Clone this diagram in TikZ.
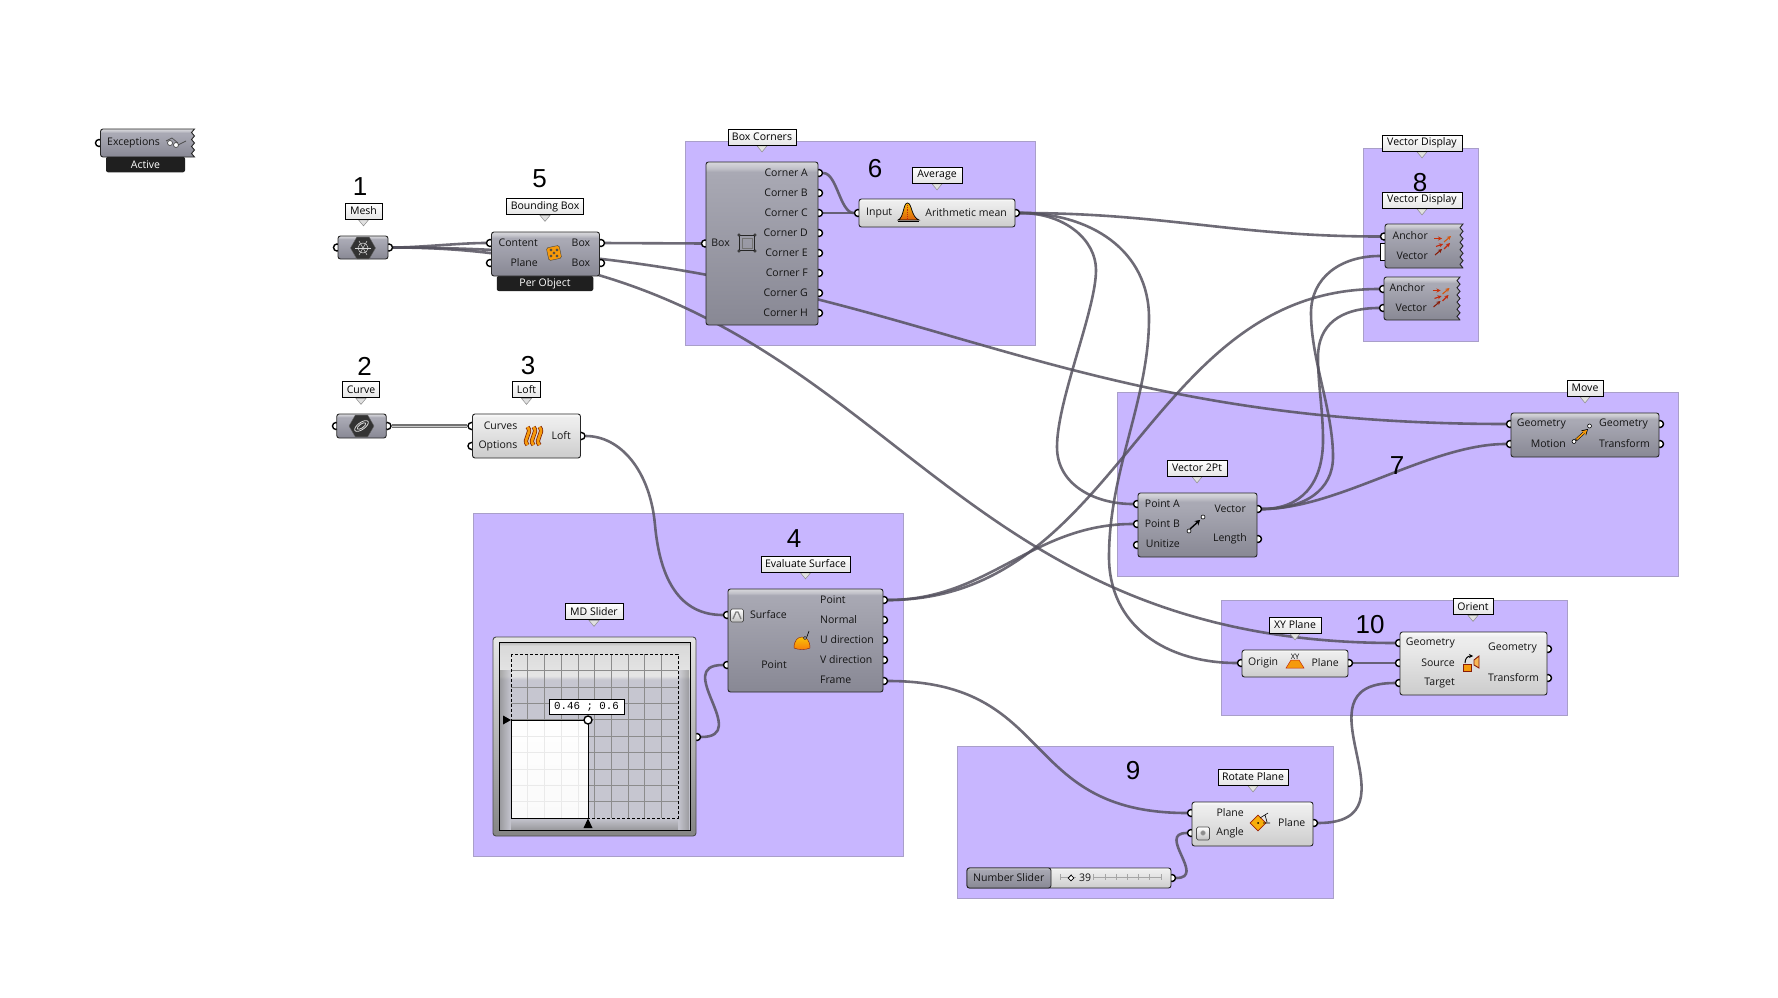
\documentclass[tikz,border=0pt]{standalone}
\usepackage{fontspec}
\setmainfont{Open Sans}
\newfontfamily\numfont{Liberation Sans}
\newfontfamily\valfont{Liberation Mono}
\usepackage{xcolor}
\definecolor{GrpPurple}{HTML}{C8B6FF}
\definecolor{GrpEdge}{HTML}{A99FC9}
\definecolor{WireGray}{HTML}{55525F}
\definecolor{IconOrange}{HTML}{F59A0C}
\definecolor{IconRed}{HTML}{C2280C}
\definecolor{DarkTop}{HTML}{A9A9B4}
\definecolor{DarkBot}{HTML}{888894}
\definecolor{DarkBand}{HTML}{D8D8DC}
\definecolor{FaceGray}{HTML}{C6C6D0}
\usepackage{tikz}
\usetikzlibrary{calc, positioning, arrows.meta, shapes.geometric}
\pgfdeclarelayer{grouplayer}
\pgfdeclarelayer{wirelayer}
\pgfdeclarelayer{portlayer}
\pgfsetlayers{grouplayer,wirelayer,portlayer,main}
\pgfdeclareverticalshading{darkgrad}{100bp}{color(0bp)=(DarkBot); color(25bp)=(DarkBot); color(65bp)=(DarkTop); color(68bp)=(DarkTop); color(72bp)=(DarkBand!70!DarkTop); color(75bp)=(DarkBand); color(100bp)=(DarkBand)}
\pgfdeclareverticalshading{talldarkgrad}{100bp}{color(0bp)=(DarkBot); color(25bp)=(DarkBot); color(72bp)=(DarkTop); color(73bp)=(DarkBand!50!DarkTop); color(75bp)=(DarkBand); color(100bp)=(DarkBand)}
\pgfdeclareverticalshading{lightgrad}{100bp}{color(0bp)=(black!20); color(25bp)=(black!20); color(64bp)=(black!8); color(71bp)=(black!7); color(75bp)=(black!1); color(100bp)=(black!1)}
\pgfdeclareverticalshading{facegrad}{100bp}{color(0bp)=(FaceGray); color(25bp)=(FaceGray); color(65bp)=(FaceGray); color(66bp)=(black!10); color(74bp)=(black!15); color(75bp)=(black!30); color(100bp)=(black!30)}
\newcommand{\jagbox}[5]{%
  \pgfmathsetmacro{\toothh}{(#4-#2)/#5/2}
  \path[jagged] (#1,#2+5) [rounded corners=2.5pt] -- (#1,#2) [sharp corners] -- (#3,#2)
    \foreach \tooth in {1,...,#5} { -- ++(-3,\toothh) -- ++(3,\toothh) }
    -- (#3,#4) [rounded corners=2.5pt] -- (#1,#4) -- cycle;}

\begin{document}
\begin{tikzpicture}[
        x=1pt, y=-1pt,
        font=\fontsize{10.5}{12}\selectfont,
        >=Stealth,
        % Styles
        wh/.style 2 args={minimum width=#1, minimum height=#2},
        groupbox/.style={rectangle, draw=GrpEdge, line width=1pt, fill=GrpPurple, inner sep=0pt},
        darkcomp/.style={rectangle, rounded corners=2.5pt, draw=black!85, line width=.9pt, shading=darkgrad, inner sep=0pt},
        tallcomp/.style={darkcomp, shading=talldarkgrad},
        lightcomp/.style={darkcomp, shading=lightgrad},
        jagged/.style={draw=black!85, line width=.9pt, shade, shading=darkgrad},
        strip/.style={rectangle, rounded corners=2pt, fill=black!88, inner sep=0pt, text=white},
        port/.style={circle, draw=black, line width=1.4pt, fill=white, minimum size=7pt, inner sep=0pt},
        wire/.style={draw=WireGray, line width=2.6pt, opacity=.85},
        curvewire/.style={draw=black!55, line width=1.4pt, double=white!80!black, double distance=1pt},
        tipbox/.style={rectangle, draw=black, line width=.8pt, top color=white, bottom color=black!10, minimum height=16pt, inner sep=0pt,
            append after command={\pgfextra{\path[draw=black!45, fill=black!12, line width=.5pt] (\tikzlastnode.south) ++(-5,.5) -- ++(5,6) -- ++(5,-6) -- cycle;}}},
        lbl/.style={text=black!92, inner sep=0pt, yshift=-.8pt},
        stepnum/.style={font=\numfont\fontsize{26}{26}\selectfont, inner sep=0pt, text=black},
        minibtn/.style={rectangle, rounded corners=1.5pt, draw=black!70, line width=.7pt, top color=white, bottom color=black!25, minimum size=13pt, inner sep=0pt},
        icondot/.style={circle, draw=black, fill=white, line width=.6pt, minimum size=4pt, inner sep=0pt}
    ]
    \useasboundingbox (0,0) rectangle (1778,998);

    % 1. GROUPS (Purple Panels)
    \begin{pgfonlayer}{grouplayer}
    \fill[white] (0,0) rectangle (1778,998);
    \node[groupbox, wh={350}{204}] (groupbox6) at (860,243) {};
    \node[groupbox, wh={115}{193}] (groupbox8) at (1420.5,244.5) {};
    \node[groupbox, wh={561}{184}] (groupbox7) at (1397.5,484) {};
    \node[groupbox, wh={430}{343}] (groupbox4) at (688,684.5) {};
    \node[groupbox, wh={346}{115}] (groupbox10) at (1394,657.5) {};
    \node[groupbox, wh={376}{152}] (groupbox9) at (1145,822) {};
    \end{pgfonlayer}

    % 2. COMPONENTS
    \jagbox{100.5}{129}{194.5}{157}{4}
    \node[strip, wh={79}{15.5}] (exceptstrip) at (145.5,164.5) {Active};
    \node[darkcomp, wh={50}{23}] (mesh) at (363,247.5) {};
    \node[strip, wh={96.5}{15}] (bboxstrip) at (545,283.5) {Per Object};
    \node[darkcomp, wh={108}{44}] (bbox) at (545.5,254) {};
    \node[darkcomp, wh={49.5}{24}] (curve) at (361.5,426) {};
    \node[lightcomp, wh={108}{44}] (loft) at (526.5,436) {};
    \node[tallcomp, wh={112}{163}] (boxcorners) at (762,243.5) {};
    \node[lightcomp, wh={156}{28}] (average) at (937,213) {};
    \node[rectangle, draw=black, fill=white, line width=.7pt, wh={8}{17}] (vdtab) at (1384,251.5) {};
    \jagbox{1385}{224}{1463}{268}{6}
    \jagbox{1384}{277}{1460}{320}{6}
    \node[darkcomp, wh={148}{44}] (move) at (1585,435) {};
    \node[tallcomp, wh={155}{103}] (evalsurf) at (805.5,640.5) {};
    \node[darkcomp, wh={119}{64}] (vector2pt) at (1197.5,525) {};
    \node[lightcomp, wh={106}{27}] (xyplane) at (1295,663.5) {};
    \node[lightcomp, wh={147}{63}] (orient) at (1473.5,663.5) {};
    \node[lightcomp, wh={121}{44}] (rotateplane) at (1252.5,824) {};
    \node[lightcomp, wh={204}{20}] (numslider) at (1069,878) {};
    \path[draw=black!85, line width=.9pt, shading=talldarkgrad, rounded corners=2.5pt] (1051,868) -| (967,888) -- (1051,888) -- cycle;

    % MD slider pad
    \node[rectangle, rounded corners=3pt, draw=black!70, line width=.9pt, top color=black!10, bottom color=black!48, wh={203}{199}] (mdslider) at (594.5,736.5) {};
    \node[rectangle, draw=black, line width=1pt, shading=facegrad, wh={191}{188}] (mdface) at (594.5,736) {};
    \shade[left color=black!50, right color=FaceGray, opacity=.6] (500,670) rectangle (511,829);
    \shade[left color=FaceGray, right color=black!50, opacity=.6] (678,670) rectangle (689,829);
    \shade[top color=FaceGray, bottom color=black!50, opacity=.6] (511,818) rectangle (678,829);
    \fill[top color=white, bottom color=black!10] (511,720) rectangle (588,818);
    \foreach \gx in {1,...,9} {
        \draw[black!45, line width=.6pt] (511+\gx*16.7,654) -- (511+\gx*16.7,818);
        \draw[black!45, line width=.6pt] (511,654+\gx*16.4) -- (678,654+\gx*16.4);
    }
    \fill[white, opacity=.82] (511,720) rectangle (588,818);
    \draw[black, densely dashed, line width=.6pt] (511,654) rectangle (678,818);
    \draw[black, line width=.9pt] (511,720) rectangle (588,818);
    \fill[black] (503,715.5) -- (511,720) -- (503,724.5) -- cycle;
    \fill[black] (583.5,828) -- (588,818.5) -- (592.5,828) -- cycle;
    \node[port, minimum size=8pt] (mdhandle) at (588,720) {};
    \node[rectangle, draw=black, line width=.8pt, fill=white, wh={75}{15}, font=\valfont\fontsize{10.8}{12}\selectfont, inner sep=0pt] (mdvalue) at (586.5,706.5) {0.46 ; 0.6};

    % 3. PORTS
    \begin{pgfonlayer}{portlayer}
    \foreach \pname/\px/\py in {exceptin/99/143, meshin/337/247.5, meshout/389/247.5,
        bboxcontent/490/243, bboxplane/490/263, bboxout/601/243, bboxoutb/601/263,
        curvein/336/426, curveout/387.5/426, loftcurves/471.5/426, loftoptions/471.5/446, loftout/581.5/436,
        cornerbox/705/243.5, cornera/819/173, cornerb/819/193, cornerc/819/213, cornerd/819/233,
        cornere/819/253, cornerf/819/273, cornerg/819/293, cornerh/819/313,
        avgin/858/213, avgout/1016/213,
        vdonea/1384/236.5, vdonev/1384/256, vdtwoa/1383/289, vdtwov/1383/308,
        movegeo/1510/424, movemotion/1510/444, moveout/1660/424, movexform/1660/444,
        surfin/727/615, pointin/727/665, evalpoint/884/600, evalnormal/884/620, evalu/884/640, evalv/884/660, evalframe/884/681,
        vecpa/1137/504, vecpb/1137/524, vecunit/1137/545, vecout/1258/509, veclen/1258/539,
        xyorigin/1241/663, xyout/1349/663,
        orientgeo/1399/643, orientsrc/1399/663, orienttgt/1399/683, orientout/1548/649, orientxform/1548/678,
        rotplane/1191/813, rotangle/1191/833, rotout/1314/823, sliderout/1172/878, mdout/697/737} {
        \node[port] (\pname) at (\px,\py) {};
    }
    \end{pgfonlayer}

    % 4. WIRES
    \begin{pgfonlayer}{wirelayer}
    \draw[wire] (meshout) .. controls +(30,0) and +(-30,0) .. (bboxcontent);
    \draw[wire] (meshout) .. controls +(505,0) and +(-505,0) .. (movegeo);
    \draw[wire] (meshout) .. controls +(497,0) and +(-497,0) .. (orientgeo);
    \draw[curvewire] (curveout) -- (loftcurves);
    \draw[wire] (bboxout) -- (cornerbox);
    \draw[wire] (cornera) .. controls +(18,0) and +(-18,0) .. (avgin);
    \draw[wire] (cornerc) -- (avgin);
    \draw[wire] (avgout) .. controls +(150,0) and +(-150,0) .. (vdonea);
    \draw[wire] (avgout) .. controls (1065,213) and (1096,240) .. (1096,270)
        .. controls (1096,310) and (1057,400) .. (1057,447)
        .. controls (1057,485) and (1095,504) .. (vecpa);
    \draw[wire] (avgout) .. controls (1090,213) and (1149,250) .. (1149,318)
        .. controls (1149,400) and (1109,470) .. (1109,557)
        .. controls (1109,625) and (1165,663) .. (xyorigin);
    \draw[wire] (loftout) .. controls (620,436) and (650,470) .. (655,525)
        .. controls (660,580) and (680,615) .. (surfin);
    \draw[wire] (mdout) .. controls +(55,0) and +(-55,0) .. (pointin);
    \draw[wire] (evalpoint) .. controls +(237,0) and +(-237,0) .. (vdtwoa);
    \draw[wire] (evalpoint) .. controls +(105,0) and +(-105,0) .. (vecpb);
    \draw[wire] (evalframe) .. controls +(173,0) and +(-173,0) .. (rotplane);
    \draw[wire] (vecout) .. controls (1305,509) and (1333,490) .. (1333,457)
        .. controls (1333,410) and (1311,360) .. (1311,313)
        .. controls (1311,278) and (1340,256) .. (vdonev);
    \draw[wire] (vecout) .. controls (1300,509) and (1323,485) .. (1323,440)
        .. controls (1323,410) and (1318,385) .. (1318,357)
        .. controls (1318,325) and (1340,308) .. (vdtwov);
    \draw[wire] (vecout) .. controls +(80,0) and +(-80,0) .. (movemotion);
    \draw[wire] (xyout) -- (orientsrc);
    \draw[wire] (rotout) .. controls +(110,0) and +(-110,0) .. (orienttgt);
    \draw[wire] (sliderout) .. controls +(35,0) and +(-35,0) .. (rotangle);
    \end{pgfonlayer}

    % 5. TEXTS
    \foreach \lname/\lx/\ly/\ltext in {
        lbbplane/538/262/Plane, lbbcontent/538/242/Content, lloftcurves/517.5/425/Curves, lloftoptions/517.5/445/Options,
        lbox/730/242/Box, lvdonea/1428/235/Anchor, lvdonev/1428/255/Vector, lvdtwoa/1425/287/Anchor, lvdtwov/1427/307/Vector,
        lmovegeo/1566/423/Geometry, lmovemotion/1566/443/Motion, lsurf/787/614/Surface, lpoint/787/664/Point,
        lvecpa/1180/503/Point A, lvecpb/1180/523/Point B, lvecunit/1180/543/Unitize, lvecout/1246/508/Vector, lveclen/1247/538/Length,
        lavgout/1007/212/Arithmetic mean, lxyout/1339/662/Plane,
        lorientgeo/1455/642/Geometry, lorientsrc/1455/662/Source, lorienttgt/1455/682/Target,
        lrotplane/1244/812/Plane, lrotangle/1244/832/Angle, lboxa/808/172/Corner A, lboxb/808/192/Corner B, lboxc/808/212/Corner C,
        lboxd/808/232/Corner D, lboxe/808/252/Corner E, lboxf/808/272/Corner F, lboxg/808/292/Corner G, lboxh/808/312/Corner H} {
        \node[lbl, anchor=east] (\lname) at (\lx,\ly) {\ltext};
    }
    \foreach \lname/\lx/\ly/\ltext in {
        lexcept/107/142/Exceptions, lbbox/571.5/242/Box, lbboxb/571.5/262/Box, lloftout/551.5/435/Loft, lavgin/866/212/Input,
        lmoveout/1599/423/Geometry, lmovexform/1599/443/Transform, levalpoint/820/599/Point, levalnormal/820/619/Normal,
        levalu/820/639/U direction, levalv/820/659/V direction, levalframe/820/679/Frame, lxyorigin/1248/662/Origin,
        lorientout/1488/647/Geometry, lorientxform/1488/677/Transform, lrotout/1278/822/Plane,
        lslider/973/877/Number Slider, lsliderval/1079/877/39} {
        \node[lbl, anchor=west] (\lname) at (\lx,\ly) {\ltext};
    }

    % 6. NUMBERS AND TOOLTIPS
    \foreach \nname/\nx/\ny/\ntext in {num1/360/187/1, num5/539.5/178.5/5, num2/364.5/366/2, num3/528/365.5/3, num6/875/168.5/6,
        num4/794/538.5/4, num8/1420/183/8, num7/1397/466/7, num10/1370/625/10, num9/1133/771/9} {
        \node[stepnum] (\nname) at (\nx,\ny) {\ntext};
    }
    \foreach \tname/\tx/\ty/\tw/\ttext in {
        tipmesh/363.5/211/37/Mesh, tipbbox/545/206.5/77/Bounding Box, tipcurve/361/389.5/37/Curve, tiploft/526.5/389.5/28/Loft,
        tipcorners/762/137/68/Box Corners, tipaverage/937/175/50/Average, tipvdouter/1422/143/80/Vector Display,
        tipvdinner/1422/200/80/Vector Display, tipmove/1585/388/36/Move, tipvector/1197/468/60/Vector 2Pt,
        tipeval/805.5/564/89/Evaluate Surface, tipmd/594/611.5/58/MD Slider, tipxy/1295/625/52/XY Plane,
        tiporient/1473/606.5/40/Orient, tiprotate/1253/777/70/Rotate Plane} {
        \node[tipbox, minimum width=\tw] (\tname) at (\tx,\ty) {\ttext};
    }

    % 7. ICONS
    % glasses
    \draw[black!70, line width=.7pt, fill=white] (170,143) circle (2.5) (176,145) circle (2.5);
    \draw[black!70, line width=.7pt] (178,145) -- (186,141) (166,141) -- (172,138) -- (178,143);
    % hexagon params
    \foreach \hexname/\hx/\hy in {meshicon/363/248, curveicon/361.5/426} {
        \node[regular polygon, regular polygon sides=6, fill=black!80, draw=black!60, minimum size=25pt, inner sep=0pt] (\hexname) at (\hx,\hy) {};
    }
    \foreach \ang in {0,60,120} \draw[white!85!black, line width=.5pt] ($(meshicon)+(\ang:8)$) -- ($(meshicon)+(\ang+180:8)$);
    \draw[white!85!black, line width=.5pt] (meshicon) circle (5);
    \draw[white!85!black, line width=.8pt, rotate around={35:(curveicon)}] (curveicon) ellipse (8 and 3.5) (curveicon) ellipse (5 and 2);
    % dice
    \node[rectangle, rotate=12, rounded corners=1.5pt, draw=black!75, fill=IconOrange, minimum size=13pt, inner sep=0pt] (diceicon) at (554,253) {};
    \foreach \dx/\dy in {-3/-3, 3/-3, 0/0, -3/3, 3/3} \fill[white, draw=black, line width=.3pt] ($(diceicon)+(\dx,\dy)$) circle (1.2);
    % loft
    \foreach \dx in {-6,0,6} {
        \draw[IconRed!60!black, line width=4.2pt] (533.5+\dx,427) .. controls (539+\dx,433) and (528+\dx,439) .. (533.5+\dx,445);
        \draw[IconOrange, line width=2.8pt] (533.5+\dx,427) .. controls (539+\dx,433) and (528+\dx,439) .. (533.5+\dx,445);
    }
    % box corners
    \node[rectangle, draw=black!85, line width=1pt, minimum size=15pt, inner sep=0pt] (boxicon) at (747,243) {};
    \node[rectangle, draw=black!55, line width=.8pt, minimum size=10pt, inner sep=0pt] (boxiconin) at (747,243) {};
    \foreach \corner in {north west, north east, south west, south east} \node[icondot, minimum size=2.5pt] at (boxicon.\corner) {};
    % bell curve
    \path[draw=black, top color=IconOrange!70!yellow, bottom color=IconRed!50!IconOrange, line width=.7pt] (898,220) .. controls (904,218) and (903,203) .. (907.5,203) .. controls (912,203) and (911,217) .. (919,220) -- cycle;
    \draw[IconRed, line width=.8pt, densely dotted] (907.5,205) -- (907.5,220);
    \draw[black, line width=.9pt] (898,221) -- (919,221);
    % vector display arrows
    \foreach \ox/\oy in {1443/245, 1441.5/297} {
        \draw[-{Stealth[length=4pt,width=4pt]}, IconRed!90!orange, line width=1.1pt] (\ox-9,\oy-6.5) -- (\ox-1,\oy-6.5);
        \draw[-{Stealth[length=4pt,width=4pt]}, IconOrange!40!IconRed, line width=1.1pt] (\ox+1,\oy-3) -- (\ox+8,\oy-9);
        \draw[-{Stealth[length=4pt,width=4pt]}, IconRed, line width=1.1pt] (\ox-7,\oy+1.5) -- (\ox,\oy-1);
        \draw[-{Stealth[length=4pt,width=4pt]}, IconRed, line width=1.1pt] (\ox+1,\oy+4) -- (\ox+7,\oy-2);
        \draw[-{Stealth[length=4pt,width=4pt]}, IconRed!70!black, line width=1.1pt] (\ox-8,\oy+10) -- (\ox-1,\oy+4);
    }
    % move
    \draw[-{Stealth[length=6pt,width=7pt]}, black, line width=2.6pt] (1576,440) -- (1588,429);
    \draw[-{Stealth[length=5pt,width=5.5pt]}, IconOrange, line width=1.6pt] (1576.5,439.5) -- (1587,430);
    \node[icondot] (movedota) at (1574,441.5) {};
    \node[icondot] (movedotb) at (1589.5,426) {};
    % vector 2pt
    \draw[-{Stealth[length=5pt,width=6pt]}, black, line width=1.4pt] (1190,529) -- (1200,520);
    \node[icondot] (vecdota) at (1189,531) {};
    \node[icondot] (vecdotb) at (1203,517) {};
    % evaluate surface
    \draw[black, line width=.6pt] (805,642) -- (809,631);
    \path[draw=IconRed!70!black, line width=.4pt, top color=IconOrange!60!yellow, bottom color=IconOrange!80!red] (794,648) .. controls (794,640) and (798,637) .. (802,637) .. controls (806,637) and (810,640) .. (810,648) .. controls (806,650) and (798,650) .. (794,648) -- cycle;
    \node[icondot, minimum size=3pt] (evaldot) at (805,638) {};
    % mini buttons
    \node[minibtn] (surfbtn) at (737,615.5) {};
    \draw[black!50, line width=1.3pt] (733,619) -- (736,612) -- (738,612) -- (741,619);
    \node[minibtn] (anglebtn) at (1203,833.5) {};
    \fill[black!45, draw=black!25] (1203,833) circle (2.5);
    % xy plane
    \path[draw=IconRed, line width=.5pt, fill=IconOrange] (1286,668) -- (1291,660) -- (1299,660) -- (1304,668) -- cycle;
    \node[inner sep=0pt, font=\fontsize{7.5}{8}\selectfont] (xyicon) at (1295,657) {XY};
    % orient
    \path[draw=IconRed!70!black, line width=.9pt, fill=IconOrange] (1463,664) rectangle (1471,671);
    \path[draw=IconRed!70!black, line width=.9pt, fill=IconOrange!70!white] (1474,660) -- (1479,656) -- (1479,668) -- (1474,665) -- cycle;
    \draw[-{Stealth[length=4pt,width=4pt]}, black, line width=1pt] (1465,663) .. controls (1465,658) and (1468,656) .. (1473,656);
    % rotate plane
    \node[diamond, draw=IconRed!80!black, fill=IconOrange!80!yellow, line width=.7pt, minimum size=16pt, inner sep=0pt] (roticon) at (1258,823) {};
    \fill[black] (1258,823) circle (1);
    \draw[black, line width=.6pt] (1260,818) -- (1268,813) (1265,815) -- (1267,822) (1263,823) -- (1270,823);
    % slider track
    \draw[black!35, line width=.5pt] (1060,877) -- (1076,877) (1093,877) -- (1161,877);
    \foreach \tk in {0,1,3,4,...,9} \draw[black!35, line width=.5pt] (1060+\tk*11.2,874) -- (1060+\tk*11.2,880);
    \node[rectangle, rotate=45, draw=black, fill=white, line width=.8pt, minimum size=4pt, inner sep=0pt] (sliderknob) at (1071,878) {};
\end{tikzpicture}
\end{document}
